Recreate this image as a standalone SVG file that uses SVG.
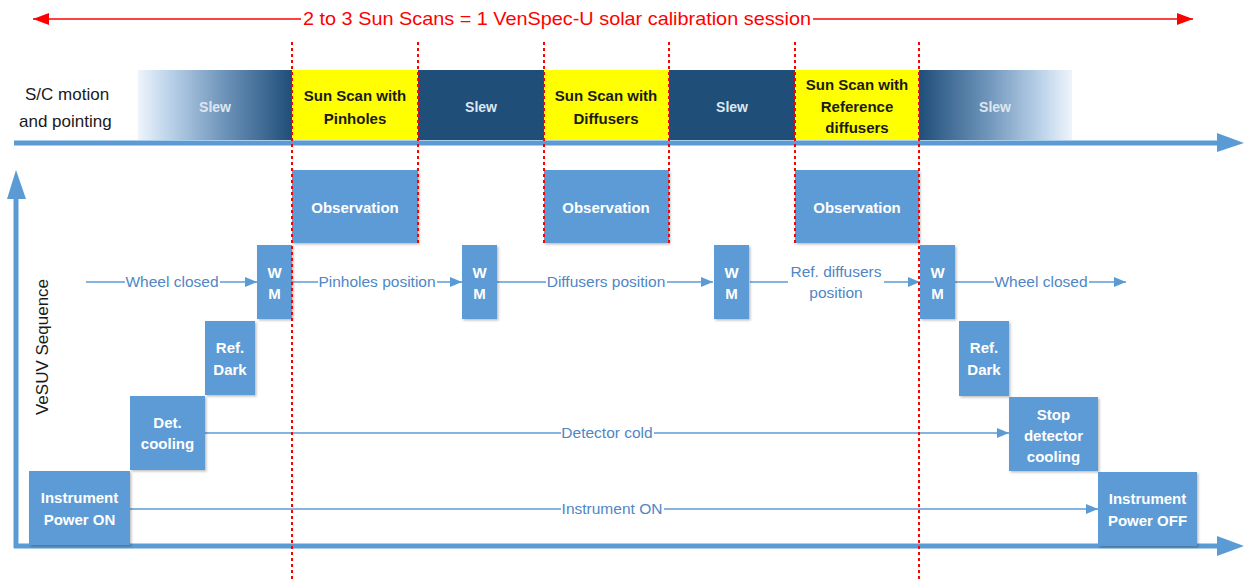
<svg xmlns="http://www.w3.org/2000/svg" width="1249" height="582" viewBox="0 0 1249 582">
<defs>
  <linearGradient id="gL" x1="0" y1="0" x2="1" y2="0">
    <stop offset="0" stop-color="#eef4fb"/>
    <stop offset="0.2" stop-color="#bcd3ea"/>
    <stop offset="0.55" stop-color="#6f95bb"/>
    <stop offset="1" stop-color="#1f4e79"/>
  </linearGradient>
  <linearGradient id="gR" x1="1" y1="0" x2="0" y2="0">
    <stop offset="0" stop-color="#eef4fb"/>
    <stop offset="0.2" stop-color="#bcd3ea"/>
    <stop offset="0.55" stop-color="#6f95bb"/>
    <stop offset="1" stop-color="#1f4e79"/>
  </linearGradient>
  <filter id="sh" x="-10%" y="-10%" width="130%" height="130%">
    <feDropShadow dx="1.5" dy="1.5" stdDeviation="1.2" flood-color="#000" flood-opacity="0.25"/>
  </filter>
  <marker id="ah" markerWidth="12" markerHeight="10" refX="12" refY="5" orient="auto" markerUnits="userSpaceOnUse">
    <path d="M0,0 L12,5 L0,10 Z" fill="#5b9bd5"/>
  </marker>
  <marker id="rh" markerWidth="16" markerHeight="12" refX="16" refY="6" orient="auto-start-reverse" markerUnits="userSpaceOnUse">
    <path d="M0,0 L16,6 L0,12 Z" fill="#ff0000"/>
  </marker>
  <style>
    .box{fill:#5b9bd5;filter:url(#sh)}
    .bt{font-family:"Liberation Sans",Arial,sans-serif;font-size:15px;font-weight:bold;fill:#ffffff;text-anchor:middle}
    .yt{font-family:"Liberation Sans",Arial,sans-serif;font-size:15px;font-weight:bold;fill:#1a1a1a;text-anchor:middle}
    .st{font-family:"Liberation Sans",Arial,sans-serif;font-size:14px;font-weight:bold;fill:#dde6f1;text-anchor:middle}
    .ct{font-family:"Liberation Sans",Arial,sans-serif;font-size:15.5px;fill:#4f86c6;text-anchor:middle}
    .lbl{font-family:"Liberation Sans",Arial,sans-serif;font-size:17px;fill:#1a1a1a}
    .cl{stroke:#5b9bd5;stroke-width:1.5;fill:none}
    .ax{stroke:#5b9bd5;stroke-width:5;fill:none}
    .red{stroke:#ff0000;stroke-width:2;stroke-dasharray:3 3;fill:none}
  </style>
</defs>
<rect width="1249" height="582" fill="#ffffff"/>

<!-- title -->
<g id="title">
  <line x1="33" y1="19" x2="301" y2="19" stroke="#ff0000" stroke-width="1.5" marker-start="url(#rh)"/>
  <line x1="813" y1="19" x2="1193" y2="19" stroke="#ff0000" stroke-width="1.5" marker-end="url(#rh)"/>
  <text x="557" y="25" font-family="'Liberation Sans',Arial,sans-serif" font-size="19" fill="#ff0000" text-anchor="middle" textLength="508" lengthAdjust="spacingAndGlyphs">2 to 3 Sun Scans = 1 VenSpec-U solar calibration session</text>
</g>

<!-- axes labels -->
<g id="sc-label">
  <text class="lbl" x="25" y="100">S/C motion</text>
  <text class="lbl" x="19" y="127">and pointing</text>
</g>
<g id="vesuv-label">
  <text class="lbl" transform="translate(48,347) rotate(-90)" text-anchor="middle">VeSUV Sequence</text>
</g>

<!-- top band -->
<g id="slew1"><rect x="138" y="70" width="154" height="70" fill="url(#gL)"/><text class="st" x="215" y="112">Slew</text></g>
<g id="scan-pinholes"><rect x="292" y="70" width="126" height="70" fill="#ffff00"/><text class="yt" x="355" y="101">Sun Scan with</text><text class="yt" x="355" y="124">Pinholes</text></g>
<g id="slew2"><rect x="418" y="70" width="126" height="70" fill="#1f4e79"/><text class="st" x="481" y="112">Slew</text></g>
<g id="scan-diffusers"><rect x="544" y="70" width="125" height="70" fill="#ffff00"/><text class="yt" x="606" y="101">Sun Scan with</text><text class="yt" x="606" y="124">Diffusers</text></g>
<g id="slew3"><rect x="669" y="70" width="126" height="70" fill="#1f4e79"/><text class="st" x="732" y="112">Slew</text></g>
<g id="scan-ref"><rect x="795" y="70" width="124" height="70" fill="#ffff00"/><text class="yt" x="857" y="90">Sun Scan with</text><text class="yt" x="857" y="112">Reference</text><text class="yt" x="857" y="133">diffusers</text></g>
<g id="slew4"><rect x="919" y="70" width="153" height="70" fill="url(#gR)"/><text class="st" x="995" y="112">Slew</text></g>

<!-- axes -->
<g id="axes">
  <line class="ax" x1="14" y1="143" x2="1220" y2="143"/>
  <polygon points="1217,133 1244,143 1217,152" fill="#5b9bd5"/>
  <line class="ax" x1="14" y1="546" x2="1220" y2="546"/>
  <polygon points="1217,536 1244,546 1217,556" fill="#5b9bd5"/>
  <line class="ax" x1="16" y1="548" x2="16" y2="195"/>
  <polygon points="7,199 16,170 26,199" fill="#5b9bd5"/>
</g>

<!-- connectors -->
<g id="connectors">
  <line class="cl" x1="86" y1="282" x2="125" y2="282"/>
  <line class="cl" x1="220" y1="282" x2="257" y2="282" marker-end="url(#ah)"/>
  <text class="ct" x="172" y="287">Wheel closed</text>

  <line class="cl" x1="292" y1="282" x2="318" y2="282"/>
  <line class="cl" x1="437" y1="282" x2="462" y2="282" marker-end="url(#ah)"/>
  <text class="ct" x="377" y="287">Pinholes position</text>

  <line class="cl" x1="497" y1="282" x2="546" y2="282"/>
  <line class="cl" x1="667" y1="282" x2="713" y2="282" marker-end="url(#ah)"/>
  <text class="ct" x="606" y="287">Diffusers position</text>

  <line class="cl" x1="750" y1="282" x2="788" y2="282"/>
  <line class="cl" x1="884" y1="282" x2="920" y2="282" marker-end="url(#ah)"/>
  <text class="ct" x="836" y="277">Ref. diffusers</text>
  <text class="ct" x="836" y="298">position</text>

  <line class="cl" x1="955" y1="282" x2="994" y2="282"/>
  <line class="cl" x1="1089" y1="282" x2="1126" y2="282" marker-end="url(#ah)"/>
  <text class="ct" x="1041" y="287">Wheel closed</text>

  <line class="cl" x1="205" y1="433" x2="561" y2="433"/>
  <line class="cl" x1="654" y1="433" x2="1009" y2="433" marker-end="url(#ah)"/>
  <text class="ct" x="607" y="438">Detector cold</text>

  <line class="cl" x1="130" y1="509" x2="561" y2="509"/>
  <line class="cl" x1="664" y1="509" x2="1098" y2="509" marker-end="url(#ah)"/>
  <text class="ct" x="612" y="514">Instrument ON</text>
</g>

<!-- sequence nodes -->
<g id="obs1"><rect class="box" x="292" y="170" width="126" height="73"/><text class="bt" x="355" y="213">Observation</text></g>
<g id="obs2"><rect class="box" x="544" y="170" width="125" height="73"/><text class="bt" x="606" y="213">Observation</text></g>
<g id="obs3"><rect class="box" x="795" y="170" width="124" height="73"/><text class="bt" x="857" y="213">Observation</text></g>

<g id="wm1"><rect class="box" x="257" y="245" width="35" height="74"/><text class="bt" x="274.5" y="278">W</text><text class="bt" x="274.5" y="299">M</text></g>
<g id="wm2"><rect class="box" x="462" y="245" width="35" height="74"/><text class="bt" x="479.5" y="278">W</text><text class="bt" x="479.5" y="299">M</text></g>
<g id="wm3"><rect class="box" x="714" y="245" width="35" height="74"/><text class="bt" x="731.5" y="278">W</text><text class="bt" x="731.5" y="299">M</text></g>
<g id="wm4"><rect class="box" x="920" y="245" width="35" height="74"/><text class="bt" x="937.5" y="278">W</text><text class="bt" x="937.5" y="299">M</text></g>

<g id="refdark1"><rect class="box" x="205" y="321" width="50" height="74"/><text class="bt" x="230" y="353">Ref.</text><text class="bt" x="230" y="375">Dark</text></g>
<g id="detcool"><rect class="box" x="130" y="396" width="75" height="74"/><text class="bt" x="167.5" y="428">Det.</text><text class="bt" x="167.5" y="449">cooling</text></g>
<g id="pwron"><rect class="box" x="29" y="471" width="101" height="74"/><text class="bt" x="79.5" y="503">Instrument</text><text class="bt" x="79.5" y="525">Power ON</text></g>

<g id="refdark2"><rect class="box" x="959" y="321" width="50" height="75"/><text class="bt" x="984" y="353">Ref.</text><text class="bt" x="984" y="375">Dark</text></g>
<g id="stopcool"><rect class="box" x="1009" y="397" width="89" height="74"/><text class="bt" x="1053.5" y="420">Stop</text><text class="bt" x="1053.5" y="441">detector</text><text class="bt" x="1053.5" y="462">cooling</text></g>
<g id="pwroff"><rect class="box" x="1098" y="472" width="99" height="74"/><text class="bt" x="1147.5" y="504">Instrument</text><text class="bt" x="1147.5" y="526">Power OFF</text></g>

<!-- red dashed markers -->
<g id="markers">
  <line class="red" x1="292" y1="42" x2="292" y2="582"/>
  <line class="red" x1="418" y1="42" x2="418" y2="245"/>
  <line class="red" x1="544" y1="42" x2="544" y2="245"/>
  <line class="red" x1="669" y1="42" x2="669" y2="245"/>
  <line class="red" x1="795" y1="42" x2="795" y2="245"/>
  <line class="red" x1="919" y1="42" x2="919" y2="582"/>
</g>
</svg>
